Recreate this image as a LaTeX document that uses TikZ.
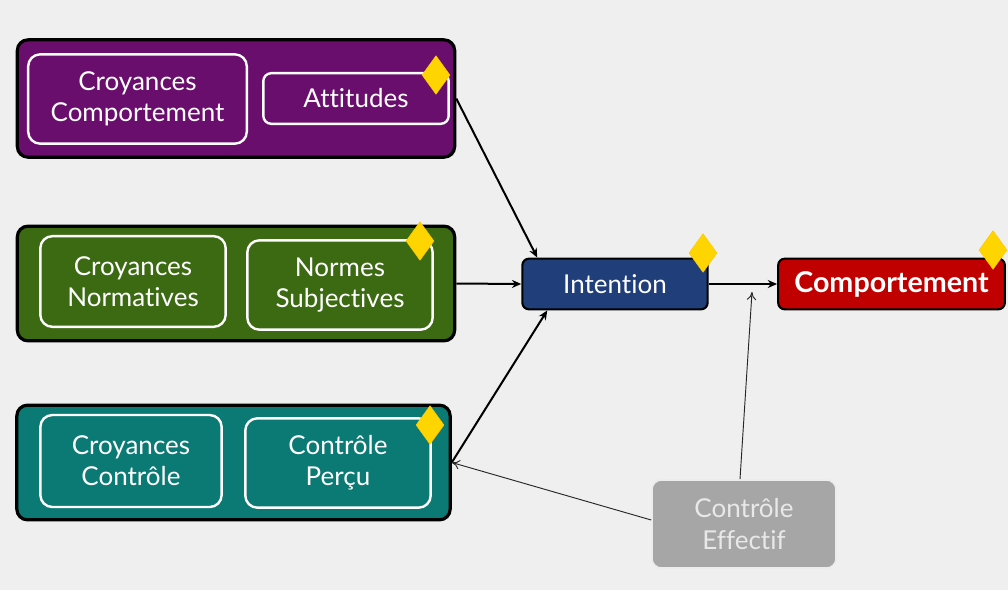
\documentclass[tikz,border=0pt]{standalone}
\usepackage{fontspec}
\setmainfont{Lato}[Ligatures={NoCommon}]
\usetikzlibrary{shapes.geometric,arrows.meta,calc}
\definecolor{bg}{HTML}{EFEFEF}
\definecolor{cpurple}{HTML}{6A0E6E}
\definecolor{cgreen}{HTML}{3C6A12}
\definecolor{cteal}{HTML}{0C7A74}
\definecolor{cblue}{HTML}{1F3E7A}
\definecolor{cred}{HTML}{C00000}
\definecolor{cgrey}{HTML}{A6A6A6}
\definecolor{cgreytext}{HTML}{E8E8E8}
\definecolor{cyellow}{HTML}{FFD500}
\tikzset{
  outerbox/.style={draw=black, line width=2.4pt, rounded corners=8pt, inner sep=0pt},
  innerbox/.style={draw=white, line width=1.8pt, rounded corners=9pt, inner sep=0pt,
    text=white, align=center, font=\fontsize{19.5}{23.5}\selectfont},
  smallbox/.style={draw=black, line width=1.6pt, rounded corners=5pt, inner sep=0pt,
    text=white, align=center, font=\fontsize{19.5}{23.5}\selectfont},
  gem/.style={diamond, fill=cyellow, draw=cyellow!85!orange, line width=0.4pt, inner sep=0pt,
    minimum width=21pt, minimum height=29pt},
  mainarrow/.style={draw=black, line width=1.5pt, -{Stealth[length=7pt,width=6pt]}},
  thinarrow/.style={draw=black!85, line width=0.7pt, -{To[length=6pt,width=7pt]}},
}
\begin{document}
\begin{tikzpicture}[x=0.75pt,y=-0.75pt]
\fill[bg] (0,0) rectangle (1008,590);
% purple group
\node[outerbox, fill=cpurple, minimum width=328pt, minimum height=88pt] (pur) at (236,98.5) {};
\node[innerbox, minimum width=164pt, minimum height=67pt] (cb) at (137.5,99) {Croyances\\Comportement};
\node[innerbox, minimum width=139pt, minimum height=38pt, rounded corners=6pt] (att) at (356,98.5) {Attitudes};
\node[gem] (d1) at (436,75) {};
% green group
\node[outerbox, fill=cgreen, minimum width=328pt, minimum height=86pt] (grn) at (236,283.5) {};
\node[innerbox, minimum width=139pt, minimum height=68pt] (cn) at (133,281.5) {Croyances\\Normatives};
\node[innerbox, minimum width=139pt, minimum height=67pt] (ns) at (340,285) {Normes\\Subjectives};
\node[gem] (d2) at (420,241) {};
% teal group
\node[outerbox, fill=cteal, minimum width=325pt, minimum height=86pt] (tea) at (233.5,462.5) {};
\node[innerbox, minimum width=136pt, minimum height=69pt] (cc) at (131,461) {Croyances\\Contrôle};
\node[innerbox, minimum width=139pt, minimum height=67pt] (cp) at (338,463) {Contrôle\\Perçu};
\node[gem] (d3) at (430,425) {};
% intention / comportement
\node[smallbox, fill=cblue, minimum width=139pt, minimum height=38pt] (int) at (615,284) {Intention};
\node[gem] (d4) at (703,253) {};
\node[smallbox, fill=cred, minimum width=170pt, minimum height=38pt, font=\fontsize{21.5}{26}\selectfont\bfseries] (comp) at (891.5,284) {Comportement};
\node[gem] (d5) at (993,250) {};
% controle effectif
\node[draw=white!85!gray, line width=1.2pt, fill=cgrey, rounded corners=7pt, inner sep=0pt,
  text=cgreytext, align=center, font=\fontsize{19.5}{23.5}\selectfont,
  minimum width=138pt, minimum height=66pt] (ce) at (744,524) {Contrôle\\Effectif};
\coordinate (tip) at (752,292);
% connectors
\draw[mainarrow] (pur.east) -- ($(int.north west)+(16,0)$);
\draw[mainarrow] (grn.east) -- (int.west);
\draw[mainarrow] (tea.east) -- ($(int.south west)+(26,0)$);
\draw[mainarrow] (int.east) -- (comp.west);
\draw[thinarrow] ($(ce.north)+(-4,0)$) -- (tip);
\draw[thinarrow] ($(ce.west)+(0,-4)$) -- (tea.east);
\end{tikzpicture}
\end{document}
